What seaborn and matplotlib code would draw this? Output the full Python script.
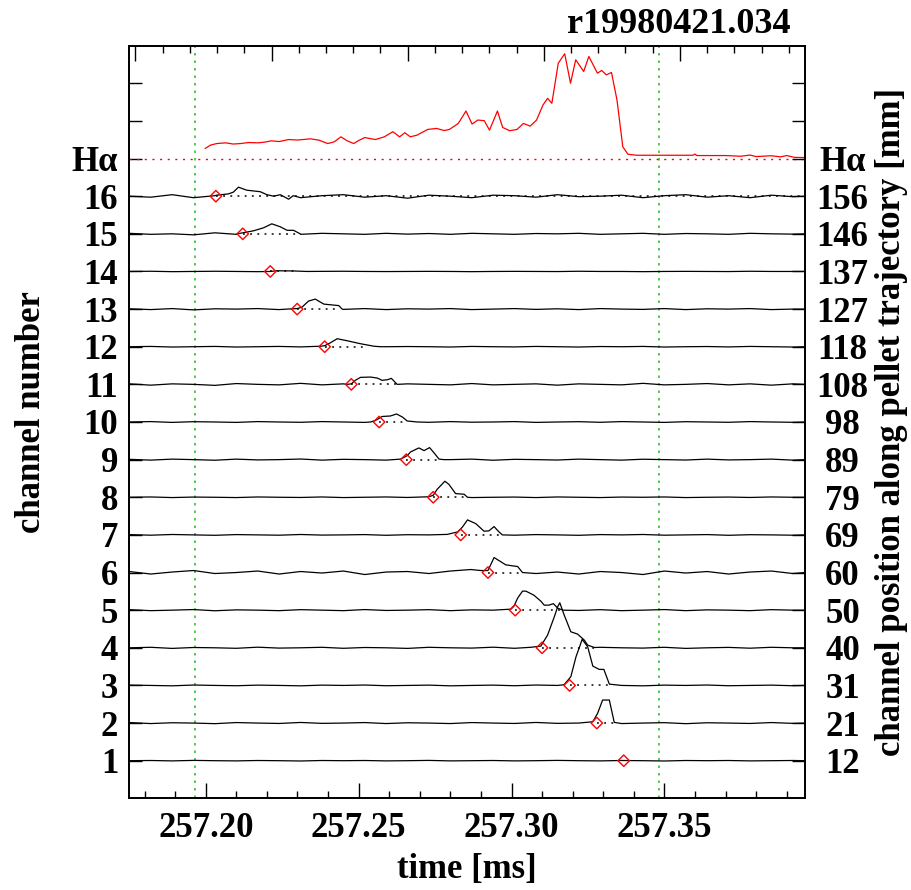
import numpy as np
import pandas as pd
import matplotlib
matplotlib.use('Agg')
import matplotlib.pyplot as plt
from matplotlib.ticker import FixedLocator, FormatStrFormatter
import seaborn as sns

# ---- data (time in ms, signals in a.u.) ----
t_min, t_max = 257.175, 257.396
t_window = [257.1965, 257.3481]          # green dotted time markers

channels = list(range(1, 17))
left_labels = [str(c) for c in channels] + ['H\u03b1']
right_labels = ['12', '21', '31', '40', '50', '60', '69', '79', '89', '98',
                '108', '118', '127', '137', '146', '156', 'H\u03b1']

# pellet arrival (red diamonds) and end of signal (dotted line), ch1..ch16
onset_t = [257.3367, 257.3279, 257.3190, 257.3100, 257.3012, 257.2923, 257.2834, 257.2744,
           257.2656, 257.2567, 257.2476, 257.2389, 257.2299, 257.2211, 257.2121, 257.2033]
end_t = [257.3367, 257.3336, 257.3326, 257.3271, 257.3162, 257.3031, 257.2965, 257.2856,
         257.2763, 257.2659, 257.2626, 257.2528, 257.2440, 257.2300, 257.2298, 257.396]

# baseline samples of each channel
noise_t = [257.175, 257.182, 257.189, 257.196, 257.203, 257.210, 257.217, 257.224, 257.231,
           257.238, 257.245, 257.252, 257.259, 257.266, 257.273, 257.280, 257.287, 257.294,
           257.301, 257.308, 257.315, 257.322, 257.329, 257.336, 257.343, 257.350, 257.357,
           257.364, 257.371, 257.378, 257.385, 257.392, 257.396]
ch01_noise = [0, 0.2, -0.2, 0.3, 0, -0.2, 0.2, 0, -0.3, 0.2, 0, 0.2, -0.2, 0, 0.3, -0.2, 0,
              0.2, -0.2, 0, 0.3, 0, -0.2, 0.2, 0, -0.3, 0.2, 0, 0.2, -0.2, 0, 0.2, 0]
ch02_noise = [0.5, -0.5, 0.3, 0, -0.6, 0.5, 0, -0.4, 0.6, -0.3, 0, 0.5, -0.5, 0.3, 0, -0.5,
              0.5, 0, -0.4, 0.6, -0.3, 0, 0.5, -0.5, 0, 0.4, -0.6, 0.3, 0, -0.4, 0.5, -0.3, 0]
ch03_noise = [0.3, 0, -0.4, 0.4, 0, -0.3, 0.3, 0, -0.4, 0.3, 0, 0.4, -0.3, 0, 0.3, -0.4, 0,
              0.3, -0.3, 0.4, 0, -0.3, 0.3, 0, -0.4, 0.3, 0, 0.4, -0.3, 0, 0.3, -0.3, 0]
ch04_noise = [0, 0.5, -0.6, 0.3, 0, -0.5, 0.6, -0.3, 0, 0.5, -0.5, 0.3, 0, -0.6, 0.5, 0,
              -0.3, 0.6, -0.5, 0, 0.3, -0.5, 0.5, 0, -0.3, 0.5, -0.6, 0, 0.4, -0.4, 0.5, 0, 0]
ch05_noise = [0.5, -0.5, 0, 0.6, -0.6, 0.3, 0, -0.5, 0.5, 0, -0.5, 0.6, -0.3, 0, 0.5, -0.5,
              0.3, 0, -0.6, 0.5, 0, -0.3, 0.5, -0.5, 0, 0.6, -0.5, 0.3, 0, -0.5, 0.5, 0, 0]
ch06_noise = [1, -1.5, 0.5, 2, -1, 0, 1.5, -1.5, 1, -0.5, 1.5, -2, 0.5, 1, -1, 1.5, -1.5,
              0.5, 2, -1, 0.5, -1.5, 1, 0, -2, 1.5, -0.5, 1, -1.5, 0.5, 1.5, -1, 0]
ch07_noise = [0.3, -0.3, 0.4, 0, -0.4, 0.3, 0, -0.3, 0.4, -0.2, 0, 0.3, -0.4, 0.2, 0, -0.3,
              0.4, 0, -0.3, 0.3, 0, -0.4, 0.3, 0, 0.4, -0.3, 0, 0.3, -0.4, 0.2, 0, -0.3, 0]
ch08_noise = [0, 0.3, -0.3, 0.2, 0, -0.3, 0.3, 0, -0.2, 0.3, -0.3, 0, 0.3, -0.2, 0, 0.3,
              -0.3, 0, 0.2, -0.3, 0.3, 0, -0.3, 0.2, 0, 0.3, -0.3, 0, 0.2, -0.2, 0.3, 0, 0]
ch09_noise = [0.3, -0.5, 0.5, 0, -0.6, 0.5, -0.3, 0, 0.6, -0.5, 0.3, 0, -0.5, 0.5, -0.3, 0,
              0.5, -0.6, 0.3, 0, -0.4, 0.5, 0, -0.5, 0.4, 0, -0.4, 0.5, -0.3, 0, 0.5, -0.5, 0]
ch10_noise = [0, 0.4, -0.4, 0.3, 0, -0.4, 0.4, 0, -0.3, 0.4, 0, -0.4, 0.3, 0, -0.3, 0.4,
              -0.2, 0, 0.4, -0.4, 0, 0.3, -0.3, 0.4, 0, -0.4, 0.3, 0, -0.3, 0.4, 0, -0.3, 0]
ch11_noise = [0.5, -0.8, 0.5, 0, -1, 0.8, 0, -0.5, 1, -0.5, 0.5, 0, -0.8, 0.5, 0, -0.5, 0.8,
              -0.5, 0, 0.5, -0.8, 0.5, 0, -0.5, 1, -0.5, 0, 0.8, -0.5, 0.5, -0.8, 0.5, 0]
ch12_noise = [0, 0.3, -0.3, 0, 0.3, -0.3, 0, 0.3, -0.2, 0, 0.3, -0.3, 0, 0.2, 0, -0.3, 0.3,
              0, -0.2, 0.3, 0, -0.3, 0.2, 0, 0.3, -0.3, 0, 0.2, -0.2, 0.3, 0, -0.3, 0]
ch13_noise = [0.3, -0.5, 0.5, -0.8, 0.3, 0, 0.5, -0.5, 0.3, 0, -0.3, 0.5, -0.5, 0.3, 0, 0.5,
              -0.5, 0, 0.5, -0.3, 0.3, -0.5, 0.5, 0, -0.3, 0.5, -0.5, 0.3, 0, 0.5, -0.5, 0, 0]
ch14_noise = [0, 0.2, -0.2, 0, 0.2, 0, -0.2, 0.1, 0, 0.1, 0.2, 0, -0.1, 0, 0.1, 0, -0.2, 0,
              0.1, 0, -0.1, 0.2, 0, 0, -0.2, 0, 0.1, 0, -0.1, 0.2, 0, 0, 0]
ch15_noise = [0.5, -0.5, 0, -1, 1, -0.5, 0.5, 0, -0.5, 0.5, 0, -0.5, 0.5, -0.3, 0.3, -0.5,
              0.5, 0, -0.5, 0.3, 0, 0.5, -0.5, 0, 0.5, -0.5, 0.3, 0, -0.5, 0.5, 0, -0.3, 0]
ch16_noise = [0, -1, 1.5, -1.5, 0.5, 1, -0.5, 1, -1.5, 0.5, 1.5, -1, 0.5, -2, 1, 0, -1.5, 1,
              0.5, -1, 1.5, -0.5, 0, 1, -1.5, 0.5, 1.5, -1, 0.5, -1.5, 1, -0.5, 0]

# pellet ablation signal of each channel: (time, signal)
ch01_bump = []
ch02_bump = [(257.3266, 1.3), (257.3282, 10.0), (257.3298, 23.0), (257.3320, 23.0), (257.3336, 0.7)]
ch03_bump = [(257.3172, 0.7), (257.3194, 8.7), (257.3211, 28.7), (257.3222, 38.0), (257.3231, 46.0),
             (257.3249, 38.7), (257.3266, 19.3), (257.3287, 16.0), (257.3302, 16.0), (257.3320, 1.3)]
ch04_bump = [(257.3063, 0.5), (257.3096, 1.7), (257.3118, 12.7), (257.3140, 31.0), (257.3151, 41.0),
             (257.3158, 45.0), (257.3172, 33.0), (257.3194, 16.0), (257.3216, 13.7), (257.3238, 7.7),
             (257.3249, 2.7), (257.3271, 0.3)]
ch05_bump = [(257.2998, 1.0), (257.3008, 4.0), (257.3020, 12.0), (257.3036, 19.0), (257.3047, 19.0),
             (257.3073, 15.0), (257.3096, 9.0), (257.3107, 5.0), (257.3122, 5.0), (257.3137, 6.5),
             (257.3151, 2.0), (257.3168, 0.0)]
ch06_bump = [(257.2867, 3.0), (257.2899, 2.0), (257.2923, 2.0), (257.2943, 15.0), (257.2981, 7.7),
             (257.3003, 6.7), (257.3020, 6.0), (257.3036, 0.0)]
ch07_bump = [(257.2790, 0.5), (257.2824, 3.0), (257.2840, 8.0), (257.2856, 15.0), (257.2883, 11.3),
             (257.2910, 3.7), (257.2926, 4.0), (257.2943, 8.3), (257.2959, 3.0), (257.2970, 0.0)]
ch08_bump = [(257.2730, 0.5), (257.2744, 2.0), (257.2757, 8.0), (257.2782, 16.0), (257.2795, 13.0),
             (257.2817, 3.7), (257.2845, 3.0), (257.2856, 0.0)]
ch09_bump = [(257.2637, 0.5), (257.2659, 4.0), (257.2670, 7.7), (257.2697, 11.7), (257.2714, 9.0),
             (257.2732, 12.0), (257.2746, 7.0), (257.2763, 0.5), (257.2779, 0.0)]
ch10_bump = [(257.2539, 0.0), (257.2555, 1.5), (257.2577, 5.5), (257.2604, 6.0), (257.2624, 8.0),
             (257.2643, 5.0), (257.2659, 1.0), (257.2692, 0.0)]
ch11_bump = [(257.2462, 0.0), (257.2476, 0.5), (257.2489, 4.0), (257.2506, 7.0), (257.2539, 7.3),
             (257.2561, 6.3), (257.2577, 4.0), (257.2595, 4.7), (257.2607, 6.0), (257.2626, 0.0)]
ch12_bump = [(257.2375, 0.5), (257.2389, 1.0), (257.2408, 4.0), (257.2430, 8.0), (257.2462, 6.0),
             (257.2506, 3.0), (257.2550, 0.5), (257.2572, 0.0)]
ch13_bump = [(257.2266, 0.0), (257.2299, 0.5), (257.2315, 2.0), (257.2336, 8.0), (257.2358, 10.0),
             (257.2386, 5.0), (257.2418, 4.0), (257.2435, 3.5), (257.2446, 0.0)]
ch14_bump = [(257.2211, 0.0), (257.2233, 0.7), (257.2287, 0.5), (257.2331, 0.0)]
ch15_bump = [(257.2102, 0.0), (257.2121, 1.0), (257.2156, 3.0), (257.2189, 6.0), (257.2216, 10.0),
             (257.2244, 7.0), (257.2266, 3.5), (257.2287, 3.5), (257.2309, 0.0)]
ch16_bump = [(257.2036, 1.0), (257.2074, 2.3), (257.2090, 4.0), (257.2107, 9.0), (257.2134, 6.0),
             (257.2178, 4.5), (257.2200, 1.5), (257.2222, 0.0), (257.2244, 1.5), (257.2271, -3.0),
             (257.2286, 0.5)]

# H-alpha monitor (time, signal)
ha_t = [257.1998, 257.2015, 257.2036, 257.2065, 257.2090, 257.2114, 257.2140, 257.2171, 257.2195,
        257.2214, 257.2240, 257.2271, 257.2300, 257.2342, 257.2370, 257.2399, 257.2420, 257.2442,
        257.2463, 257.2484, 257.2500, 257.2520, 257.2555, 257.2584, 257.2612, 257.2634, 257.2651,
        257.2669, 257.2691, 257.2726, 257.2755, 257.2780, 257.2797, 257.2826, 257.2851, 257.2871,
        257.2890, 257.2911, 257.2928, 257.2954, 257.2971, 257.2994, 257.3018, 257.3039, 257.3061,
        257.3082, 257.3103, 257.3118, 257.3132, 257.3153, 257.3174, 257.3193, 257.3210, 257.3236,
        257.3253, 257.3281, 257.3295, 257.3310, 257.3327, 257.3345, 257.3364, 257.3381, 257.3409,
        257.3480, 257.3594, 257.3600, 257.3606, 257.3700, 257.3750, 257.3780, 257.3800, 257.3850,
        257.3880, 257.3900, 257.3925, 257.3957]
ha_v = [10, 13.4, 15, 15.7, 14.5, 15, 16, 15.7, 16.5, 17.7, 17, 19, 18.5, 19.7, 18.4, 15, 16.7,
        21.7, 17.7, 15, 18, 21, 19, 21.7, 26.8, 21.7, 25.8, 21.7, 23.4, 29.1, 30.1, 28, 29.1, 35.1,
        47.5, 34.5, 38.5, 37.8, 28.4, 47.5, 31.1, 27.8, 29.1, 35.1, 32.4, 38.5, 53.5, 60.2, 55.2,
        95.3, 104.7, 75.3, 98.7, 87, 102, 85.3, 88, 83.6, 86, 58.5, 11.7, 4.3, 3.3, 3.3, 3.3, 4.5,
        3, 3, 2.3, 3.5, 2, 2.8, 1.7, 3, 1.2, 1]

noise_lists = [ch01_noise, ch02_noise, ch03_noise, ch04_noise, ch05_noise, ch06_noise,
               ch07_noise, ch08_noise, ch09_noise, ch10_noise, ch11_noise, ch12_noise,
               ch13_noise, ch14_noise, ch15_noise, ch16_noise]
bump_lists = [ch01_bump, ch02_bump, ch03_bump, ch04_bump, ch05_bump, ch06_bump, ch07_bump,
              ch08_bump, ch09_bump, ch10_bump, ch11_bump, ch12_bump, ch13_bump, ch14_bump,
              ch15_bump, ch16_bump]
ha_level = 17
gain = 1 / 37.6   # signal a.u. -> channel spacing

# ---- assemble traces ----
rows = []
for ch, noise, bump in zip(channels, noise_lists, bump_lists):
    assert len(noise) == len(noise_t)
    lo, hi = (bump[0][0], bump[-1][0]) if bump else (1e9, -1e9)
    pts = [(t, v) for t, v in zip(noise_t, noise) if not (lo <= t <= hi)] + list(bump)
    pts.sort()
    for t, v in pts:
        rows.append((ch, t, ch + gain * v))
traces = pd.DataFrame(rows, columns=['channel', 'time', 'y'])
halpha = pd.DataFrame({'time': ha_t, 'y': ha_level + gain * np.array(ha_v)})

# ---- style ----
sns.set_theme(style='ticks')
plt.rcParams['font.family'] = ['Liberation Serif', 'DejaVu Serif']
plt.rcParams['font.weight'] = 'bold'
plt.rcParams['axes.labelweight'] = 'bold'
for key in ('text.color', 'axes.labelcolor', 'xtick.color', 'ytick.color'):
    plt.rcParams[key] = 'black'
fs = 25

fig = plt.figure(figsize=(9.12, 8.90), dpi=100)
ax = fig.add_axes([0.1418, 0.1030, 0.7409, 0.8457])

for t in t_window:
    ax.axvline(t, color='#33c233', ls=(0, (1.5, 3)), lw=1.2, zorder=1)
ax.axhline(ha_level, color='red', ls=(0, (1.5, 4)), lw=1, zorder=1)

sns.lineplot(data=traces, x='time', y='y', units='channel', estimator=None, sort=False,
             color='black', linewidth=0.9, ax=ax, legend=False, zorder=2)
sns.lineplot(data=halpha, x='time', y='y', sort=False, color='red', linewidth=0.9, ax=ax, zorder=2)

ax.hlines(channels, onset_t, end_t, colors='black', linestyles=(0, (1.2, 3.5)), lw=1.1, zorder=3)
sns.scatterplot(x=onset_t, y=channels, marker='D', s=34, facecolor='none', edgecolor='red',
                linewidth=1, ax=ax, zorder=4)

ax.set_xlim(t_min, t_max)
ax.set_ylim(0, 20)

# bottom axis
ax.xaxis.set_major_locator(FixedLocator([257.20, 257.25, 257.30, 257.35]))
ax.xaxis.set_minor_locator(FixedLocator(np.arange(257.18, 257.395, 0.01)))
ax.xaxis.set_major_formatter(FormatStrFormatter('%.2f'))
ax.tick_params(axis='x', which='major', direction='in', length=10.8, width=1, labelsize=fs, pad=10)
ax.tick_params(axis='x', which='minor', direction='in', length=5, width=1)

# left axis
ax.set_yticks(range(1, 18))
ax.set_yticklabels(left_labels)
ax.yaxis.set_minor_locator(FixedLocator([18, 19]))
ax.tick_params(axis='y', which='both', direction='in', length=9.4, width=1, labelsize=fs, pad=8)

# top axis (unlabelled ticks)
axt = ax.twiny()
axt.set_xlim(t_min, t_max)
axt.xaxis.set_major_locator(FixedLocator([257.1770 + 0.04452 * k for k in range(5)]))
axt.xaxis.set_minor_locator(FixedLocator([257.1770 + 0.008904 * k for k in range(25)]))
axt.tick_params(axis='x', which='major', direction='in', length=10.8, width=1, labeltop=False)
axt.tick_params(axis='x', which='minor', direction='in', length=5, width=1)

# right axis
axr = ax.twinx()
axr.set_ylim(0, 20)
axr.set_yticks(range(1, 18))
axr.set_yticklabels(right_labels)
axr.yaxis.set_minor_locator(FixedLocator([18, 19]))
axr.tick_params(axis='y', which='both', direction='in', length=9.4, width=1, labelsize=fs, pad=27)
for lbl in axr.get_yticklabels():
    lbl.set_horizontalalignment('center')

for a in (ax, axt, axr):
    for sp in a.spines.values():
        sp.set_color('black')
        sp.set_linewidth(1.1)

ax.set_xlabel('time [ms]', fontsize=fs, fontweight='bold')
ax.xaxis.set_label_coords(0.5, -0.072)
ax.set_ylabel('channel number', fontsize=fs, fontweight='bold')
ax.yaxis.set_label_coords(-0.12, 0.513)
axr.set_ylabel('channel position along pellet trajectory [mm]', fontsize=fs, fontweight='bold')
axr.yaxis.set_label_coords(1.104, 0.5)

fig.text(791 / 912, 1 - 33 / 890, 'r19980421.034', ha='right', va='baseline',
         fontsize=26, fontweight='bold')

fig.savefig('out.png', dpi=100)
